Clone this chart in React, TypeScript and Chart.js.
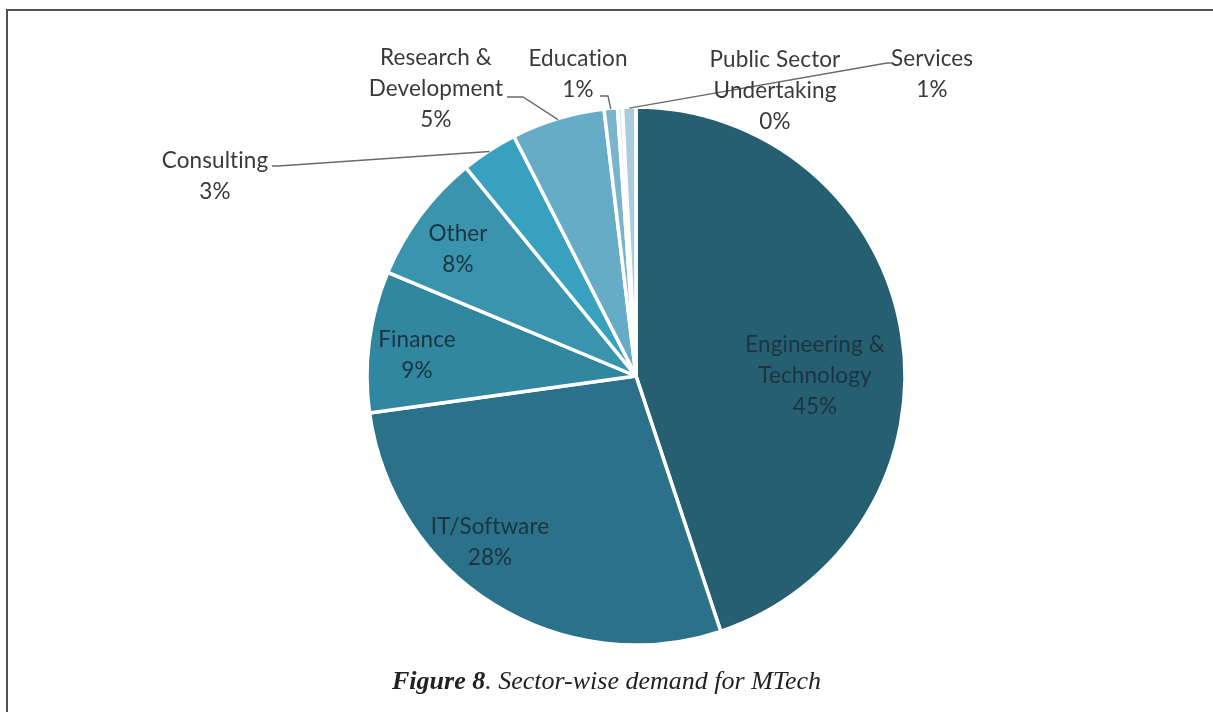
import React, { useEffect, useRef } from "react";
import { Chart, registerables } from "chart.js";

Chart.register(...registerables);

// ---- data ----
const categories = [
  "Engineering & Technology",
  "IT/Software",
  "Finance",
  "Other",
  "Consulting",
  "Research & Development",
  "Education",
  "Public Sector Undertaking",
  "Services",
];
const shares = [44.9, 27.9, 8.5, 7.8, 3.4, 5.6, 0.8, 0.3, 0.8];
const percentLabels = ["45%", "28%", "9%", "8%", "3%", "5%", "1%", "0%", "1%"];
const labelLines = [
  ["Engineering &", "Technology"],
  ["IT/Software"],
  ["Finance"],
  ["Other"],
  ["Consulting"],
  ["Research &", "Development"],
  ["Education"],
  ["Public Sector", "Undertaking"],
  ["Services"],
];
const sliceColors = [
  "#255f71",
  "#2b7189",
  "#3186a0",
  "#3a94ae",
  "#38a1bf",
  "#67acc6",
  "#78b4cc",
  "#d3e6ee",
  "#a9cddd",
];

// ---- label layout (offsets from pie centre, px) ----
type Layout = { dx: number; dy: number; inside?: boolean; leader?: number[][] };
const labelLayout: Layout[] = [
  { dx: 179, dy: 0, inside: true },
  { dx: -146, dy: 166, inside: true },
  { dx: -219, dy: -21, inside: true },
  { dx: -178, dy: -127, inside: true },
  { dx: -421, dy: -200, leader: [[-358, -210], [-364, -210]] },
  { dx: -200, dy: -287, leader: [[-113, -279], [-129, -279]] },
  { dx: -58, dy: -302, leader: [[-28, -280], [-36, -280]] },
  { dx: 139, dy: -285 },
  { dx: 296, dy: -302, leader: [[251, -313], [257, -313]] },
];

const LINE_H = 31;

const labelPlugin = {
  id: "sliceLabels",
  afterDatasetsDraw(chart: any) {
    const ctx = chart.ctx as CanvasRenderingContext2D;
    const meta = chart.getDatasetMeta(0);
    ctx.save();
    // leader lines
    meta.data.forEach((arc: any, i: number) => {
      const lay = labelLayout[i];
      if (!lay.leader) return;
      const mid = (arc.startAngle + arc.endAngle) / 2;
      const r = arc.outerRadius - 1;
      ctx.beginPath();
      ctx.moveTo(arc.x + Math.cos(mid) * r, arc.y + Math.sin(mid) * r);
      lay.leader.forEach((p) => ctx.lineTo(arc.x + p[0], arc.y + p[1]));
      ctx.strokeStyle = "#6a6a6a";
      ctx.lineWidth = 1.4;
      ctx.stroke();
    });
    // texts
    ctx.font = "22.5px Lato";
    (ctx as any).letterSpacing = "0.1px";
    ctx.textAlign = "center";
    ctx.textBaseline = "middle";
    meta.data.forEach((arc: any, i: number) => {
      const lay = labelLayout[i];
      const lines = [...labelLines[i], percentLabels[i]];
      const cx = arc.x + lay.dx;
      const cy = arc.y + lay.dy;
      const top = cy - ((lines.length - 1) * LINE_H) / 2;
      ctx.fillStyle = lay.inside ? "#1b3440" : "#3a3a3a";
      lines.forEach((t, k) => ctx.fillText(t, cx, top + k * LINE_H));
    });
    ctx.restore();
  },
};

export default function App() {
  const ref = useRef<HTMLCanvasElement>(null);
  useEffect(() => {
    document.body.style.margin = "0";
    const chart = new Chart(ref.current as HTMLCanvasElement, {
      type: "pie",
      data: {
        labels: categories,
        datasets: [
          {
            data: shares,
            backgroundColor: sliceColors,
            borderColor: "#ffffff",
            borderWidth: 3.5,
            hoverOffset: 0,
          },
        ],
      },
      options: {
        animation: false,
        responsive: false,
        radius: 269,
        layout: { padding: { left: 367, right: 308, top: 107, bottom: 67 } },
        plugins: { legend: { display: false }, tooltip: { enabled: false } },
      } as any,
      plugins: [labelPlugin],
    });
    return () => chart.destroy();
  }, []);

  return (
    <div style={{ position: "relative", width: 1213, height: 712, background: "#fff", overflow: "hidden" }}>
      <canvas ref={ref} width={1213} height={712} style={{ position: "absolute", left: 0, top: 0 }} />
      <div style={{ position: "absolute", left: 6, top: 9, right: 0, height: 2, background: "#505050" }} />
      <div style={{ position: "absolute", left: 6, top: 9, width: 2, bottom: 0, background: "#505050" }} />
      <div
        style={{
          position: "absolute",
          left: 0,
          width: 1213,
          top: 665,
          textAlign: "center",
          fontFamily: "'Liberation Serif', serif",
          fontStyle: "italic",
          fontSize: 26,
          lineHeight: "32px",
          color: "#222",
        }}
      >
        <b>Figure 8</b>. Sector-wise demand for MTech
      </div>
    </div>
  );
}
